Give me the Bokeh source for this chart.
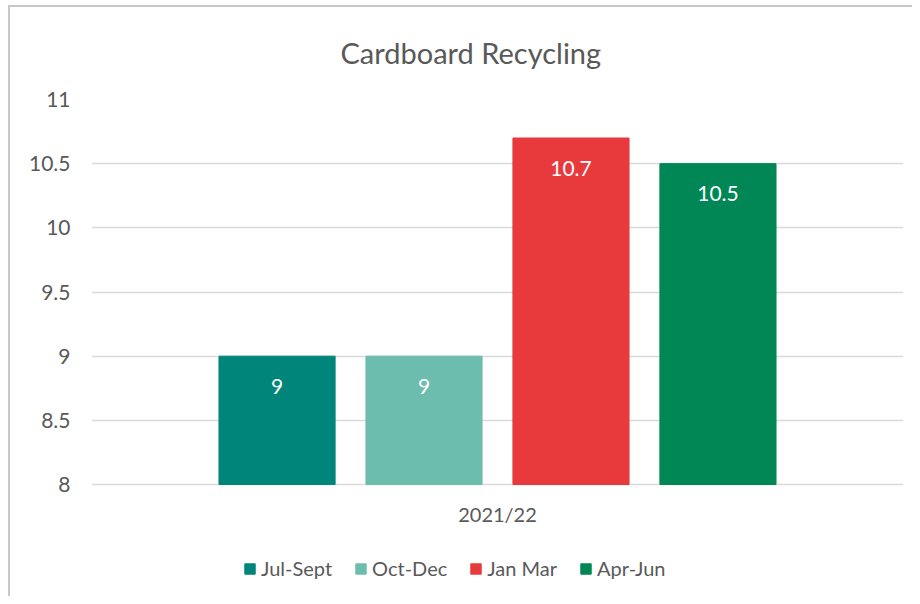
from bokeh.plotting import figure
from bokeh.models import FactorRange, Range1d, FixedTicker, Legend, LegendItem
from bokeh.transform import dodge
from bokeh.core.properties import value
from bokeh.embed import file_html
from bokeh.resources import INLINE

title = "Cardboard Recycling"
category = "2021/22"
seasons = ["Jul-Sept", "Oct-Dec", "Jan Mar", "Apr-Jun"]
values = [9, 9, 10.7, 10.5]
value_labels = ["9", "9", "10.7", "10.5"]
colors = ["#00857A", "#6DBDAF", "#E8393D", "#008755"]
y_ticks = [8, 8.5, 9, 9.5, 10, 10.5, 11]
y_tick_labels = ["8", "8.5", "9", "9.5", "10", "10.5", "11"]

FONT = "Lato"
GREY = "#595959"

# layout geometry (pixels)
W, H = 912, 596
FRAME_L, FRAME_R, FRAME_T, FRAME_B = 91, 903, 99, 590
AXIS_B = 484  # pixel row of the value 8 baseline
y_lo, y_hi = y_ticks[0], y_ticks[-1]
y_start = y_hi - (y_hi - y_lo) * (FRAME_B - FRAME_T) / (AXIS_B - FRAME_T)

border = "#c8c8c8"
p = figure(width=W, height=H, output_backend="svg", toolbar_location=None,
           x_range=FactorRange(factors=[category], range_padding=0),
           y_range=Range1d(y_start, y_hi),
           min_border_left=FRAME_L, min_border_right=W - FRAME_R,
           min_border_top=FRAME_T, min_border_bottom=H - FRAME_B)
p.border_fill_alpha = 0
p.background_fill_color = "white"
p.styles = {"background": (f"linear-gradient({border},{border}) 8px 5px / 2px 100% no-repeat, "
                           f"linear-gradient({border},{border}) 8px 5px / 100% 2px no-repeat, #ffffff")}

p.title.text = title
p.title.align = "left"
p.title.offset = 340 - FRAME_L
p.title.text_font = FONT
p.title.text_font_size = "29px"
p.title.text_font_style = "normal"
p.title.text_color = GREY
p.title.standoff = 60

p.outline_line_color = None
p.xgrid.grid_line_color = None
p.ygrid.grid_line_color = "#d9d9d9"
p.ygrid.grid_line_width = 1.5
p.ygrid.ticker = FixedTicker(ticks=y_ticks)

p.yaxis.ticker = FixedTicker(ticks=y_ticks)
p.yaxis.major_label_overrides = {t: l for t, l in zip(y_ticks, y_tick_labels)}
p.yaxis.axis_line_color = None
p.yaxis.major_tick_line_color = None
p.yaxis.minor_tick_line_color = None
p.yaxis.major_tick_out = 0
p.yaxis.major_tick_in = 0
p.yaxis.major_label_standoff = 21
p.yaxis.major_label_text_font = FONT
p.yaxis.major_label_text_font_size = "21px"
p.yaxis.major_label_text_color = GREY
p.xaxis.visible = False

# category label under the bars
p.text(x=[category], y=[y_lo], text=[category], text_color=GREY, text_font=value(FONT),
       text_font_size="20px", text_align="center", text_baseline="middle", y_offset=29)

step = 0.181
bar_w = 0.143
items = []
for i, (s, v, lab, c) in enumerate(zip(seasons, values, value_labels, colors)):
    off = (i - (len(seasons) - 1) / 2) * step
    src = dict(x=[category], top=[v], lab=[lab])
    r = p.vbar(x=dodge("x", off, range=p.x_range), top="top", bottom=y_lo, width=bar_w,
               source=src, fill_color=c, line_color=c)
    p.text(x=dodge("x", off, range=p.x_range), y="top", text="lab", source=src,
           text_color="white", text_font=value(FONT), text_font_size="21px",
           text_align="center", text_baseline="middle", y_offset=30)
    items.append(LegendItem(label=s, renderers=[r]))

legend = Legend(items=items, orientation="horizontal", location=(243 - FRAME_L, 10),
                glyph_width=13, glyph_height=13, label_standoff=5, spacing=22,
                label_text_font=FONT, label_text_font_size="20px", label_text_color=GREY,
                border_line_color=None, background_fill_alpha=0, margin=0, padding=0)
p.add_layout(legend, "center")

open("out.html", "w").write(file_html(p, INLINE))
